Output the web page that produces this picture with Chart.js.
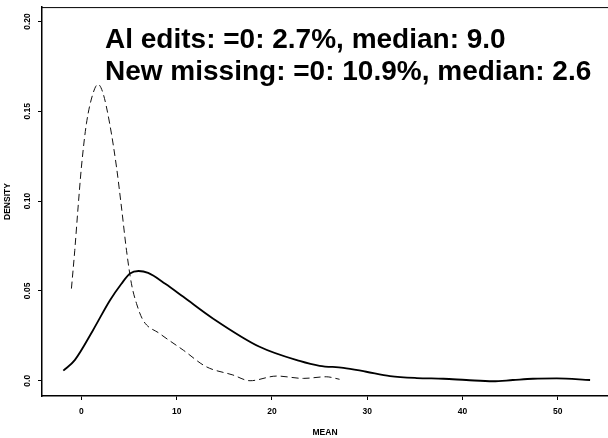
<!DOCTYPE html>
<html>
<head>
<meta charset="utf-8">
<script src="https://cdn.jsdelivr.net/npm/chart.js@4.4.0/dist/chart.umd.min.js"></script>
<style>
  html, body { margin: 0; padding: 0; background: #fff; overflow: hidden; }
  canvas { display: block; }
</style>
</head>
<body>
<canvas id="densityChart" width="608" height="438"></canvas>
<script>
// AI edits (solid line)
const aiX = [-1.9, -0.7, 1.2, 3.0, 4.2, 5.1, 6.0, 7.0, 8.8, 10.7, 13.8, 18.7, 22.9, 25.0, 27.5, 29.9, 32.4, 35.2, 38.0, 40.4, 43.2, 45.3, 47.4, 49.9, 53.4];
const aiY = [0.0056, 0.0115, 0.028, 0.0448, 0.054, 0.0597, 0.0611, 0.060, 0.054, 0.0467, 0.0347, 0.0189, 0.011, 0.0083, 0.0072, 0.005, 0.0026, 0.0015, 0.0011, 0.0004, -0.0003, 0.0004, 0.0011, 0.0013, 0.0004];

// New missing (dashed line)
const newX = [-1.05, -0.7, -0.35, 0.0, 0.52, 1.22, 1.74, 2.27, 2.97, 3.68, 4.2, 4.73, 5.25, 5.78, 6.47, 8.2, 10.7, 13.1, 15.9, 17.7, 20.5, 23.3, 25.7, 27.1];
const newY = [0.0513, 0.0726, 0.0967, 0.119, 0.143, 0.160, 0.165, 0.160, 0.143, 0.119, 0.0967, 0.0726, 0.054, 0.043, 0.0337, 0.0263, 0.017, 0.0078, 0.0032, 0.0, 0.0026, 0.0013, 0.0022, 0.0008];

const xTicks = [0, 10, 20, 30, 40, 50];
const xTickLabels = ['0', '10', '20', '30', '40', '50'];
const yTicks = [0, 0.05, 0.10, 0.15, 0.20];
const yTickLabels = ['0.0', '0.05', '0.10', '0.15', '0.20'];

const noteLines = ['Al edits: =0: 2.7%, median: 9.0', 'New missing: =0: 10.9%, median: 2.6'];

const toPoints = (xs, ys) => xs.map((x, i) => ({ x: x, y: ys[i] }));

// top frame line + the big text block
const notesPlugin = {
    id: 'notes',
    afterDraw(chart) {
        const ctx = chart.ctx;
        const area = chart.chartArea;
        ctx.save();
        ctx.strokeStyle = '#000';
        ctx.lineWidth = 1;
        ctx.beginPath();
        ctx.moveTo(area.left, area.top + 0.5);
        ctx.lineTo(area.right, area.top + 0.5);
        ctx.stroke();

        ctx.fillStyle = '#000';
        ctx.font = 'bold 28px "Liberation Sans", Arial, sans-serif';
        ctx.textBaseline = 'alphabetic';
        ctx.textAlign = 'left';
        ctx.fillText(noteLines[0], 105, 48);
        ctx.fillText(noteLines[1], 105, 80);
        ctx.restore();
    }
};

const tickFont = { family: '"Liberation Sans", Arial, sans-serif', size: 8.5, weight: 'bold' };

new Chart(document.getElementById('densityChart'), {
    type: 'line',
    data: {
        datasets: [{
            label: 'AI edits',
            data: toPoints(aiX, aiY),
            borderColor: '#000',
            borderWidth: 1.8,
            pointRadius: 0,
            cubicInterpolationMode: 'monotone',
            fill: false,
        }, {
            label: 'New missing',
            data: toPoints(newX, newY),
            borderColor: '#111',
            borderWidth: 1,
            borderDash: [7, 4],
            pointRadius: 0,
            cubicInterpolationMode: 'monotone',
            fill: false,
        }],
    },
    options: {
        responsive: false,
        animation: false,
        devicePixelRatio: 1,
        layout: {
            padding: { top: 6, right: 0, bottom: 0, left: 0 }
        },
        plugins: {
            legend: { display: false },
            tooltip: { enabled: false },
            title: { display: false },
        },
        scales: {
            x: {
                type: 'linear',
                min: -4.14,
                max: 55.28,
                afterBuildTicks: (scale) => { scale.ticks = xTicks.map(v => ({ value: v })); },
                afterFit: (scale) => { scale.height = 42; },
                ticks: {
                    color: '#000',
                    font: tickFont,
                    padding: 7,
                    maxRotation: 0,
                    minRotation: 0,
                    callback: (v, i) => xTickLabels[i],
                },
                grid: {
                    drawOnChartArea: false,
                    drawTicks: true,
                    tickLength: 4,
                    color: '#000',
                },
                border: { display: true, color: '#000', width: 1.5 },
                title: {
                    display: true,
                    text: 'MEAN',
                    color: '#000',
                    font: tickFont,
                    padding: { top: 0, bottom: 0 },
                },
            },
            y: {
                type: 'linear',
                min: -0.0085,
                max: 0.208,
                afterBuildTicks: (scale) => { scale.ticks = yTicks.map(v => ({ value: v })); },
                afterFit: (scale) => { scale.width = 42; },
                ticks: {
                    color: '#000',
                    font: tickFont,
                    padding: 2,
                    minRotation: 90,
                    maxRotation: 90,
                    crossAlign: 'center',
                    callback: (v, i) => yTickLabels[i],
                },
                grid: {
                    drawOnChartArea: false,
                    drawTicks: true,
                    tickLength: 4,
                    color: '#000',
                },
                border: { display: true, color: '#000', width: 1.5 },
                title: {
                    display: true,
                    text: 'DENSITY',
                    color: '#000',
                    font: tickFont,
                    padding: { top: 3, bottom: 0 },
                },
            },
        },
    },
    plugins: [notesPlugin],
});
</script>
</body>
</html>
